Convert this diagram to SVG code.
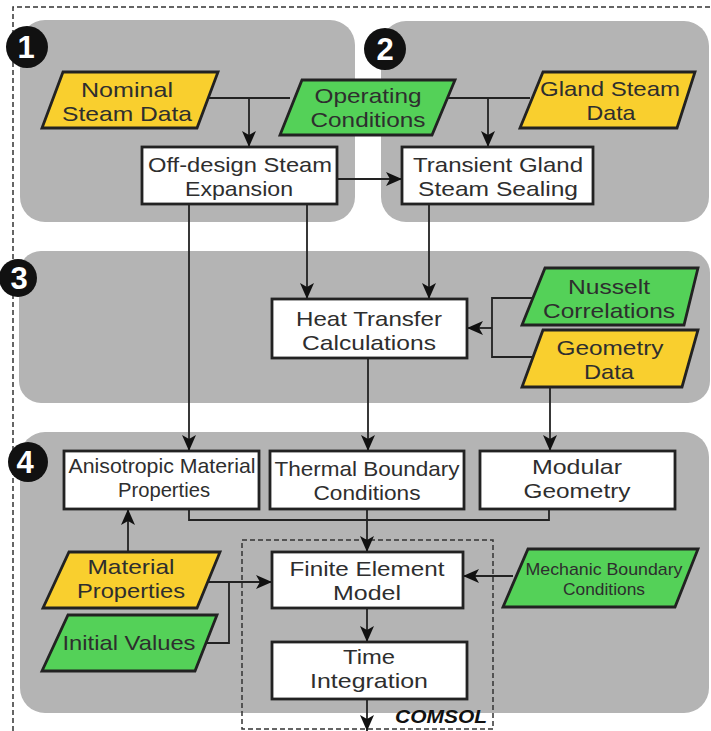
<svg xmlns="http://www.w3.org/2000/svg" width="711" height="731" viewBox="0 0 711 731">
<defs>
<marker id="ah" viewBox="0 0 16 14" refX="16" refY="7" markerWidth="16" markerHeight="14" markerUnits="userSpaceOnUse" orient="auto">
<path d="M0,0 L16,7 L0,14 L4,7 z" fill="#111"/>
</marker>
<style>
.panel{fill:#b4b4b4}
.box{fill:#fff;stroke:#222;stroke-width:2.8}
.yel{fill:#f9cf2e;stroke:#222;stroke-width:2.8}
.grn{fill:#54d158;stroke:#222;stroke-width:2.8}
.t{font-family:"Liberation Sans",Arial,sans-serif;font-size:21px;fill:#2e2e2e;text-anchor:middle}
.s17{font-size:17px}
.badge{fill:#111}
.bt{font-family:"Liberation Sans",Arial,sans-serif;font-size:31px;font-weight:bold;fill:#fff;text-anchor:middle}
.c{fill:none;stroke:#222;stroke-width:1.8}
.dash{fill:none;stroke:#333;stroke-width:1.5;stroke-dasharray:5,3}
.cm{font-family:"Liberation Sans",Arial,sans-serif;font-size:18px;font-weight:bold;font-style:italic;fill:#111;text-anchor:middle}
</style>
</defs>
<rect width="711" height="731" fill="#fff"/>
<path class="dash" d="M13,731 V7 H711"/>
<g id="panels">
<rect class="panel" x="20" y="20" width="335" height="202" rx="25"/>
<rect class="panel" x="381" y="21" width="328" height="201" rx="25"/>
<rect class="panel" x="19" y="251" width="691" height="152" rx="22"/>
<rect class="panel" x="20" y="432" width="689" height="281" rx="25"/>
</g>
<g id="badges">
<circle class="badge" cx="27" cy="47" r="21"/><text class="bt" x="26" y="58">1</text>
<circle class="badge" cx="385" cy="49" r="21"/><text class="bt" x="385" y="60">2</text>
<circle class="badge" cx="18" cy="278" r="19"/><text class="bt" x="19" y="289">3</text>
<circle class="badge" cx="28" cy="462" r="20"/><text class="bt" x="25" y="473">4</text>
</g>
<path class="dash" d="M242,540 H493 V729 H242 Z"/>
<g id="connectors">
<path class="c" d="M208,98 H290"/>
<path class="c" d="M249,98 V147" marker-end="url(#ah)"/>
<path class="c" d="M445,98 H530"/>
<path class="c" d="M488,98 V147" marker-end="url(#ah)"/>
<path class="c" d="M337,179 H402" marker-end="url(#ah)"/>
<path class="c" d="M189,204 V451" marker-end="url(#ah)"/>
<path class="c" d="M307,204 V299" marker-end="url(#ah)"/>
<path class="c" d="M429,204 V299" marker-end="url(#ah)"/>
<path class="c" d="M532,298 H492 V357 H532"/>
<path class="c" d="M492,328 H467" marker-end="url(#ah)"/>
<path class="c" d="M368,358 V451" marker-end="url(#ah)"/>
<path class="c" d="M550,387 V451" marker-end="url(#ah)"/>
<path class="c" d="M189,509 V520 H549 V509"/>
<path class="c" d="M367,509 V552" marker-end="url(#ah)"/>
<path class="c" d="M128,552 V509" marker-end="url(#ah)"/>
<path class="c" d="M208,582 H272" marker-end="url(#ah)"/>
<path class="c" d="M203,643 H229 V582"/>
<path class="c" d="M513,576 H463" marker-end="url(#ah)"/>
<path class="c" d="M367,608 V642" marker-end="url(#ah)"/>
<path class="c" d="M367,699 V731" marker-end="url(#ah)"/>
</g>
<g id="nominal">
<polygon class="yel" points="63,72 218,72 197,128 42,128"/>
<text class="t"><tspan x="127" y="96.5" textLength="92" lengthAdjust="spacingAndGlyphs">Nominal</tspan><tspan x="127" y="120.5" textLength="130" lengthAdjust="spacingAndGlyphs">Steam Data</tspan></text>
</g>
<g id="operating">
<polygon class="grn" points="302,80 455,80 432,135 280,135"/>
<text class="t"><tspan x="368" y="103" textLength="107" lengthAdjust="spacingAndGlyphs">Operating</tspan><tspan x="368" y="127" textLength="115" lengthAdjust="spacingAndGlyphs">Conditions</tspan></text>
</g>
<g id="gland">
<polygon class="yel" points="543,72 695,72 677,128 520,128"/>
<text class="t"><tspan x="610" y="95.5" textLength="140" lengthAdjust="spacingAndGlyphs">Gland Steam</tspan><tspan x="611" y="119.5" textLength="49" lengthAdjust="spacingAndGlyphs">Data</tspan></text>
</g>
<g id="offdesign">
<rect class="box" x="142" y="147" width="195" height="57"/>
<text class="t"><tspan x="240" y="171.5" textLength="184" lengthAdjust="spacingAndGlyphs">Off-design Steam</tspan><tspan x="239" y="195.5" textLength="108" lengthAdjust="spacingAndGlyphs">Expansion</tspan></text>
</g>
<g id="transient">
<rect class="box" x="402" y="147" width="191" height="57"/>
<text class="t"><tspan x="498" y="171.5" textLength="170" lengthAdjust="spacingAndGlyphs">Transient Gland</tspan><tspan x="498" y="195.5" textLength="160" lengthAdjust="spacingAndGlyphs">Steam Sealing</tspan></text>
</g>
<g id="heat">
<rect class="box" x="272" y="299" width="195" height="59"/>
<text class="t"><tspan x="369" y="325.5" textLength="146" lengthAdjust="spacingAndGlyphs">Heat Transfer</tspan><tspan x="369" y="349.5" textLength="134" lengthAdjust="spacingAndGlyphs">Calculations</tspan></text>
</g>
<g id="nusselt">
<polygon class="grn" points="545,268 698,268 684,325 522,325"/>
<text class="t"><tspan x="609" y="293.5" textLength="82" lengthAdjust="spacingAndGlyphs">Nusselt</tspan><tspan x="609" y="317.5" textLength="132" lengthAdjust="spacingAndGlyphs">Correlations</tspan></text>
</g>
<g id="geometry">
<polygon class="yel" points="543,330 698,330 682,387 522,387"/>
<text class="t"><tspan x="610" y="354.5" textLength="107" lengthAdjust="spacingAndGlyphs">Geometry</tspan><tspan x="609" y="378.5" textLength="50" lengthAdjust="spacingAndGlyphs">Data</tspan></text>
</g>
<g id="anisotropic">
<rect class="box" x="64" y="451" width="195" height="58"/>
<text class="t"><tspan x="162" y="473" textLength="187" lengthAdjust="spacingAndGlyphs">Anisotropic Material</tspan><tspan x="164" y="497" textLength="92" lengthAdjust="spacingAndGlyphs">Properties</tspan></text>
</g>
<g id="thermal">
<rect class="box" x="270" y="451" width="194" height="58"/>
<text class="t"><tspan x="367" y="475.5" textLength="185" lengthAdjust="spacingAndGlyphs">Thermal Boundary</tspan><tspan x="367" y="499.5" textLength="107" lengthAdjust="spacingAndGlyphs">Conditions</tspan></text>
</g>
<g id="modular">
<rect class="box" x="480" y="451" width="195" height="58"/>
<text class="t"><tspan x="577" y="474" textLength="90" lengthAdjust="spacingAndGlyphs">Modular</tspan><tspan x="577" y="498" textLength="107" lengthAdjust="spacingAndGlyphs">Geometry</tspan></text>
</g>
<g id="material">
<polygon class="yel" points="69,552 220,552 197,608 43,608"/>
<text class="t"><tspan x="131" y="574" textLength="87" lengthAdjust="spacingAndGlyphs">Material</tspan><tspan x="131" y="598" textLength="108" lengthAdjust="spacingAndGlyphs">Properties</tspan></text>
</g>
<g id="initial">
<polygon class="grn" points="68,615 217,615 195,671 42,671"/>
<text class="t" x="129" y="650" textLength="133" lengthAdjust="spacingAndGlyphs">Initial Values</text>
</g>
<g id="finite">
<rect class="box" x="272" y="552" width="191" height="56"/>
<text class="t"><tspan x="367" y="575.5" textLength="155" lengthAdjust="spacingAndGlyphs">Finite Element</tspan><tspan x="367" y="599.5" textLength="68" lengthAdjust="spacingAndGlyphs">Model</tspan></text>
</g>
<g id="time">
<rect class="box" x="272" y="642" width="195" height="57"/>
<text class="t"><tspan x="369" y="663.5" textLength="52" lengthAdjust="spacingAndGlyphs">Time</tspan><tspan x="369" y="687.5" textLength="118" lengthAdjust="spacingAndGlyphs">Integration</tspan></text>
</g>
<g id="mechanic">
<polygon class="grn" points="528,549 698,549 675,607 503,607"/>
<text class="t s17"><tspan x="604" y="575" textLength="157" lengthAdjust="spacingAndGlyphs">Mechanic Boundary</tspan><tspan x="604" y="595" textLength="82" lengthAdjust="spacingAndGlyphs">Conditions</tspan></text>
</g>
<text class="cm" x="441" y="723" textLength="92" lengthAdjust="spacingAndGlyphs">COMSOL</text>
</svg>
